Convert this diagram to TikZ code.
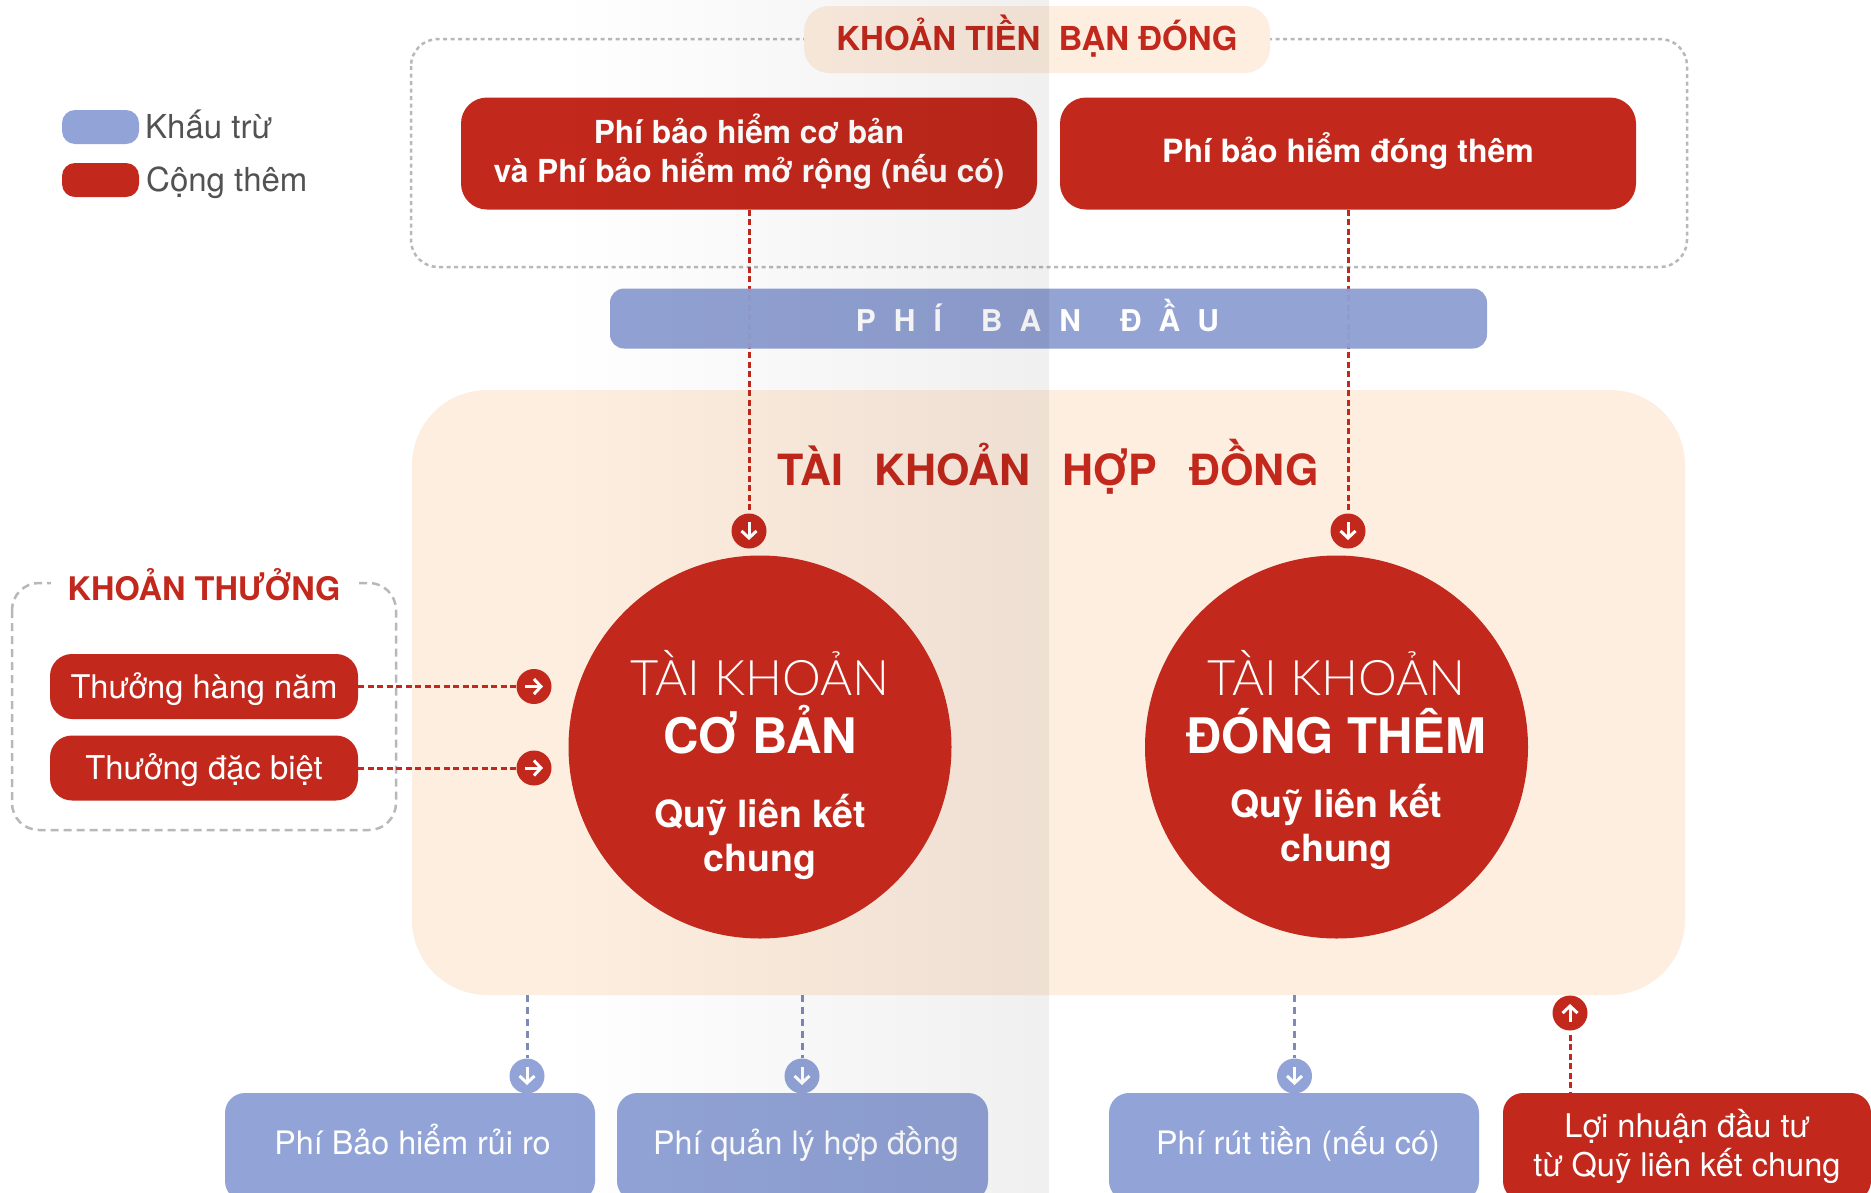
\documentclass[tikz,border=0pt]{standalone}
\usepackage{fontspec}
\setmainfont{TeX Gyre Heros}
\newfontfamily\thinfont{Lato Light}
\usetikzlibrary{arrows.meta}
\definecolor{bhred}{HTML}{C2281C}
\definecolor{bhblue}{HTML}{92A3D7}
\definecolor{bhpeach}{HTML}{FDEEE0}
\newcommand{\fsz}[1]{\fontsize{#1}{#1}\selectfont}

\begin{document}
\begin{tikzpicture}[x=1pt,y=-1pt]
		\tikzstyle{every node}=[inner sep=0pt,text=white];
		\tikzstyle{redbox}=[fill=bhred,rounded corners=26pt,align=center,font=\fsz{32}\bfseries];
		\tikzstyle{bluebox}=[fill=bhblue,rounded corners=20pt,align=center,font=\fsz{32.3},text height=23pt,text depth=8pt];
		\tikzstyle{arrowdot}=[circle,minimum size=35pt];
		\tikzstyle{icon}=[draw=white,line width=3pt,-{Straight Barb[length=7pt,width=15pt,line width=3pt]}];
		\tikzstyle{reddash}=[draw=bhred,line width=3pt,dash pattern=on 6pt off 3.5pt];
		\tikzstyle{bluedash}=[draw=bhblue!85!black,line width=3pt,dash pattern=on 7pt off 5pt];
		\tikzstyle{greydash}=[draw=black!28,line width=2.5pt,rounded corners=27pt];
		\tikzstyle{circtext}=[anchor=base,font=\fsz{37.5}\bfseries];
		\useasboundingbox (0,0) rectangle (1871,1192);
		\clip (0,0) rectangle (1871,1192);
		% legend
		\path (100.5,127) node[fill=bhblue,rounded corners=13pt,minimum width=77pt,minimum height=34pt] (keyblue) {};
		\path (100.5,180) node[fill=bhred,rounded corners=13pt,minimum width=77pt,minimum height=34pt] (keyred) {};
		\path (145,138.5) node[anchor=base west,text=black!68,font=\fsz{33}] (keybluetext) {Khấu trừ};
		\path (146,191.5) node[anchor=base west,text=black!68,font=\fsz{33}] (keyredtext) {Cộng thêm};
		% what you pay
		\draw[greydash,dash pattern=on 4pt off 3.5pt] (411,39) rectangle (1687,267);
		\path (1037,39.5) node[fill=bhpeach,rounded corners=25pt,minimum width=466pt,minimum height=67pt,text=bhred,font=\fsz{33}\bfseries,text height=24pt,text depth=3pt] (paid) {KHOẢN TIỀN\hspace{.55em}BẠN ĐÓNG};
		\path (749,153.5) node[redbox,font=\fsz{31.7}\bfseries,minimum width=576pt,minimum height=112pt,text depth=11pt] (base) {Phí bảo hiểm cơ bản\\[7pt]và Phí bảo hiểm mở rộng (nếu có)};
		\path (1348,153.5) node[redbox,minimum width=576pt,minimum height=112pt,text height=24pt,text depth=6pt] (extra) {Phí bảo hiểm đóng thêm};
		% contract account
		\path (1048.5,692.5) node[fill=bhpeach,rounded corners=75pt,minimum width=1273pt,minimum height=605pt] (account) {};
		\path (1048,485) node[anchor=base,text=bhred,font=\fsz{43}\bfseries] (accounttext) {TÀI\hspace{.74em}KHOẢN\hspace{.74em}HỢP\hspace{.74em}ĐỒNG};
		\path (749,531) node[arrowdot,fill=bhred] (d1) {};
		\path (1348,531) node[arrowdot,fill=bhred] (d2) {};
		\draw[reddash] (base) -- (d1);
		\draw[reddash] (extra) -- (d2);
		\path (1048.5,318.5) node[fill=bhblue!98!black,fill opacity=.97,text opacity=1,rounded corners=14pt,minimum width=877pt,minimum height=60pt,font=\fsz{30}\bfseries,text height=25pt,text depth=0pt] (initial) {\addfontfeatures{LetterSpace=60}PHÍ\hspace{1.3em}BAN\hspace{1.3em}ĐẦU\hspace*{22pt}};
		\draw[icon] ([yshift=9pt]d1.center) -- ([yshift=-9pt]d1.center);
		\draw[icon] ([yshift=9pt]d2.center) -- ([yshift=-9pt]d2.center);
		% bonuses
		\draw[greydash,dash pattern=on 8pt off 5pt] (12,583) rectangle (396,830);
		\path (204,588) node[fill=white,minimum width=306pt,minimum height=40pt,text=bhred,font=\fsz{32.5}\bfseries,text height=25pt,text depth=1pt] (bonus) {KHOẢN THƯỞNG};
		\path (204,686.5) node[redbox,font=\fsz{32.6},rounded corners=22pt,minimum width=308pt,minimum height=65pt,text height=27pt,text depth=3pt] (b1) {Thưởng hàng năm};
		\path (204,768) node[redbox,font=\fsz{32.8},rounded corners=22pt,minimum width=308pt,minimum height=65pt,text height=26pt,text depth=4pt] (b2) {Thưởng đặc biệt};
		\path (534,686.5) node[arrowdot,fill=bhred] (r1) {};
		\path (534,768) node[arrowdot,fill=bhred] (r2) {};
		\draw[reddash] (b1) -- (r1);
		\draw[reddash] (b2) -- (r2);
		\draw[icon] ([xshift=-9pt]r1.center) -- ([xshift=9pt]r1.center);
		\draw[icon] ([xshift=-9pt]r2.center) -- ([xshift=9pt]r2.center);
		% bottom row
		\path (410,1147) node[bluebox,minimum width=370pt,minimum height=108pt] (f1) {\hspace*{5pt}Phí Bảo hiểm rủi ro};
		\path (802.5,1147) node[bluebox,minimum width=371pt,minimum height=108pt] (f2) {\hspace*{7pt}Phí quản lý hợp đồng};
		\path (1294,1147) node[bluebox,minimum width=370pt,minimum height=108pt] (f3) {\hspace*{8pt}Phí rút tiền (nếu có)};
		\path (1687,1147) node[redbox,font=\fsz{32.6},rounded corners=20pt,minimum width=368pt,minimum height=108pt,text depth=9pt] (f4) {Lợi nhuận đầu tư\\[4pt]từ Quỹ liên kết chung};
		\path (527,1076) node[arrowdot,fill=bhblue] (e1) {};
		\path (802,1076) node[arrowdot,fill=bhblue] (e2) {};
		\path (1294.5,1076) node[arrowdot,fill=bhblue] (e3) {};
		\path (1570,1013) node[arrowdot,fill=bhred] (u1) {};
		\draw[bluedash] (e1 |- account.south) -- (e1);
		\draw[bluedash] (e2 |- account.south) -- (e2);
		\draw[bluedash] (e3 |- account.south) -- (e3);
		\draw[reddash] ([yshift=-4pt]u1.south) -- (u1 |- f4.north);
		\draw[icon] ([yshift=9pt]e1.center) -- ([yshift=-9pt]e1.center);
		\draw[icon] ([yshift=9pt]e2.center) -- ([yshift=-9pt]e2.center);
		\draw[icon] ([yshift=9pt]e3.center) -- ([yshift=-9pt]e3.center);
		\draw[icon] ([yshift=-9pt]u1.center) -- ([yshift=9pt]u1.center);
		% grey band
		\begin{scope}[blend mode=multiply]
		\shade[left color=white,middle color=black!2,right color=black!6] (560,0) rectangle (1049,1192);
		\end{scope}
		% the two funds
		\path (760,747) node[circle,fill=bhred,minimum size=383pt] (c1) {};
		\path (1336.5,747) node[circle,fill=bhred,minimum size=383pt] (c2) {};
		\path (760,695) node[circtext,font=\fsz{49}\thinfont] (c1a) {TÀI KHOẢN};
		\path (760,753) node[circtext,font=\fsz{49}\bfseries] (c1b) {CƠ BẢN};
		\path (760,827) node[circtext] (c1c) {Quỹ liên kết};
		\path (760,871) node[circtext] (c1d) {chung};
		\path (1336.5,695) node[circtext,font=\fsz{49}\thinfont] (c2a) {TÀI KHOẢN};
		\path (1336.5,753) node[circtext,font=\fsz{49}\bfseries] (c2b) {ĐÓNG THÊM};
		\path (1336.5,817) node[circtext] (c2c) {Quỹ liên kết};
		\path (1336.5,861) node[circtext] (c2d) {chung};
\end{tikzpicture}
\end{document}
